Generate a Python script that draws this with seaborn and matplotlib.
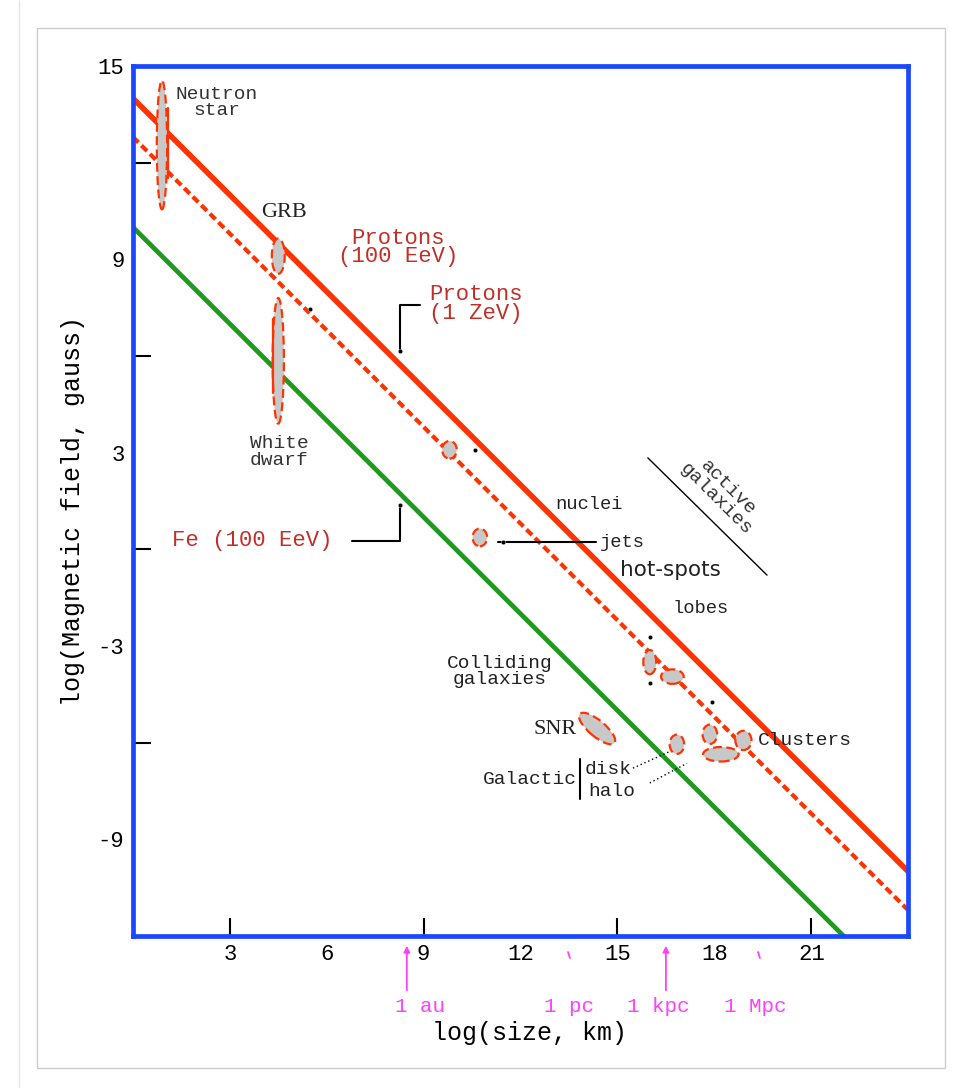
import numpy as np
import pandas as pd
import matplotlib
matplotlib.use("Agg")
import matplotlib.pyplot as plt
from matplotlib.patches import Ellipse, Rectangle
import seaborn as sns

# acceleration limit lines (log size km, log B gauss)
proton_100eev_x = [0, 24]
proton_100eev_y = [14.0, -10.0]
proton_1zev_x = [0, 24]
proton_1zev_y = [12.8, -11.2]
fe_100eev_x = [0, 22]
fe_100eev_y = [10.0, -12.0]

# sources: centre x, centre y, width, height, angle
src_names = ["Neutron star", "GRB", "White dwarf", "nuclei", "jets", "hot-spots",
             "lobes", "disk", "halo-a", "halo-b", "clusters", "SNR"]
src_x = [0.9, 4.5, 4.5, 9.8, 10.74, 16.0, 16.7, 16.84, 17.86, 18.2, 18.9, 14.37]
src_y = [12.55, 9.1, 5.85, 3.09, 0.37, -3.5, -3.95, -6.05, -5.74, -6.36, -5.93, -5.56]
src_w = [0.32, 0.4, 0.35, 0.45, 0.45, 0.4, 0.7, 0.45, 0.45, 1.1, 0.5, 1.4]
src_h = [4.0, 1.1, 3.9, 0.55, 0.55, 0.75, 0.45, 0.6, 0.6, 0.45, 0.6, 0.5]
src_ang = [0, 0, 0, 0, 0, 0, 0, 0, 0, 0, 0, -40]

# little black marks
mark_x = [5.48, 10.59, 16.0, 16.0, 17.93, 8.27, 8.27, 11.45]
mark_y = [7.47, 3.09, -2.72, -4.14, -4.75, 6.17, 1.39, 0.22]

# distance units on the size axis
unit_labels = ["1 au", "1 pc", "1 kpc", "1 Mpc"]
unit_label_x = [8.89, 13.5, 16.25, 19.26]
unit_arrow_x = [8.48, 16.5]
unit_tick_x = [13.47, 19.35]

xtick_labels = [3, 6, 9, 12, 15, 18, 21]
xtick_marks = [3, 9, 15, 21]
ytick_labels = [15, 9, 3, -3, -9]
ytick_marks = [12, 6, 0, -6]

RED = "#ff3300"
DRED = "#c0302a"
GREEN = "#1f9a1f"
BLUE = "#1a47ff"
MAG = "#ff40ff"
MONO = "Liberation Mono"
INK = "#222222"

sns.set_theme(style="white")
plt.rcParams['font.family'] = ['Liberation Mono', 'DejaVu Sans']

fig = plt.figure(figsize=(9.56, 10.88), dpi=100)
fig.patches.append(Rectangle((0.0387, 0.0184), 0.95, 0.956, transform=fig.transFigure,
                             fill=False, edgecolor="#cccccc", lw=1.0))
fig.patches.append(Rectangle((0.02, 0.0), 0.0, 1.0, transform=fig.transFigure,
                             fill=False, edgecolor="#e4e4e4", lw=1.0))
ax = fig.add_axes([0.139, 0.1397, 0.811, 0.7996])

lines = pd.DataFrame({
    "x": proton_100eev_x + proton_1zev_x + fe_100eev_x,
    "y": proton_100eev_y + proton_1zev_y + fe_100eev_y,
    "set": ["p100"] * 2 + ["p1z"] * 2 + ["fe"] * 2,
})
sns.lineplot(data=lines[lines.set == "p100"], x="x", y="y", color=RED, lw=4.0, ax=ax)
sns.lineplot(data=lines[lines.set == "p1z"], x="x", y="y", color=RED, lw=3.0,
             ax=ax, dashes=False, linestyle=(0, (1.9, 1.0)))
sns.lineplot(data=lines[lines.set == "fe"], x="x", y="y", color=GREEN, lw=3.4, ax=ax)

for x, y, w, h, a in zip(src_x, src_y, src_w, src_h, src_ang):
    ax.add_patch(Ellipse((x, y), w, h, angle=a, facecolor="#c8c8c8",
                         edgecolor=RED, lw=1.6, ls=(0, (4, 2)), zorder=4))

# red bars through neutron star and white dwarf
ax.plot([1.08, 1.08], [13.7, 11.54], color=RED, lw=1.6, zorder=5)
ax.plot([4.33, 4.33], [7.16, 4.85], color=RED, lw=1.6, zorder=5)

sns.scatterplot(x=mark_x, y=mark_y, color="black", s=10, marker="o", ax=ax, zorder=6)

# leader lines
ax.plot([8.89, 8.27, 8.27], [7.59, 7.59, 6.17], color="black", lw=1.5)
ax.plot([6.78, 8.27, 8.27], [0.25, 0.25, 1.39], color="black", lw=1.5)
ax.plot([14.35, 11.3], [0.22, 0.22], color="black", lw=1.5)
ax.plot([15.94, 19.63], [2.84, -0.80], color="black", lw=1.0)
ax.plot([13.84, 13.84], [-6.51, -7.75], color="black", lw=1.5)
ax.plot([15.48, 16.63], [-6.79, -6.27], color="black", lw=1.0, ls=(0, (1, 2)))
ax.plot([16.0, 17.15], [-7.25, -6.64], color="black", lw=1.0, ls=(0, (1, 2)))

txt = dict(ha="center", va="center", family=MONO)
ax.text(2.60, 13.87, "Neutron\nstar", fontsize=14, color="#333333", linespacing=0.95, **txt)
ax.text(4.67, 10.46, "GRB", fontsize=16, color=INK, ha="center", va="center",
        family="Liberation Serif")
ax.text(8.2, 9.37, "Protons\n(100 EeV)", fontsize=16, color=DRED, linespacing=0.85, **txt)
ax.text(10.62, 7.61, "Protons\n(1 ZeV)", fontsize=16, color=DRED, linespacing=0.85, **txt)
ax.text(4.52, 3.02, "White\ndwarf", fontsize=14, color="#333333", linespacing=0.95, **txt)
ax.text(3.68, 0.28, "Fe (100 EeV)", fontsize=16, color=DRED, **txt)
ax.text(14.12, 1.39, "nuclei", fontsize=13.5, color=INK, **txt)
ax.text(15.14, 0.22, "jets", fontsize=13.5, color=INK, **txt)
ax.text(16.63, -0.65, "hot-spots", fontsize=15.5, color=INK, ha="center", va="center",
        family="DejaVu Sans")
ax.text(17.59, -1.85, "lobes", fontsize=13.5, color=INK, **txt)
ax.text(18.24, 1.73, "active\ngalaxies", fontsize=14, color="#333333", rotation=-45,
        rotation_mode="anchor", linespacing=0.95, **txt)
ax.text(11.36, -3.80, "Colliding\ngalaxies", fontsize=14, color=INK, linespacing=0.95, **txt)
ax.text(13.07, -5.59, "SNR", fontsize=16, color=INK, ha="center", va="center",
        family="Liberation Serif")
ax.text(12.29, -7.13, "Galactic", fontsize=14, color=INK, **txt)
ax.text(14.71, -6.82, "disk", fontsize=14, color=INK, **txt)
ax.text(14.83, -7.50, "halo", fontsize=14, color=INK, **txt)
ax.text(20.8, -5.93, "Clusters", fontsize=14, color=INK, **txt)

ax.set_xlim(0, 24)
ax.set_ylim(-12, 15)

# inner tick marks sit on some labelled positions, keep both
ax.xaxis.remove_overlapping_locs = False
ax.yaxis.remove_overlapping_locs = False
ax.set_xticks(xtick_labels)
ax.set_xticklabels([str(v) for v in xtick_labels], family=MONO, fontsize=16)
ax.set_xticks(xtick_marks, minor=True)
ax.set_yticks(ytick_labels)
ax.set_yticklabels([str(v) for v in ytick_labels], family=MONO, fontsize=16)
ax.set_yticks(ytick_marks, minor=True)
ax.tick_params(which="major", length=0, pad=6, colors="black")
ax.tick_params(which="minor", direction="in", length=13, width=1.5, color="black",
               bottom=True, left=True)

for s in ax.spines.values():
    s.set_color(BLUE)
    s.set_linewidth(3.4)

# distance units below the axis
btr = ax.get_xaxis_transform()
for x in unit_arrow_x:
    ax.annotate("", xy=(x, -0.008), xytext=(x, -0.0655), xycoords=btr, textcoords=btr,
                arrowprops=dict(arrowstyle="-|>", color=MAG, lw=1.3, mutation_scale=9),
                annotation_clip=False)
for x in unit_tick_x:
    ax.plot([x, x + 0.06], [-0.0184, -0.0253], transform=btr, color=MAG, lw=1.3,
            clip_on=False)
for lab, x in zip(unit_labels, unit_label_x):
    ax.text(x, -0.0805, lab, transform=btr, color=MAG, fontsize=15, ha="center",
            va="center", family=MONO)

ax.set_xlabel("log(size, km)", family=MONO, fontsize=18, color="black")
ax.xaxis.set_label_coords(0.511, -0.111)
ax.xaxis.label.set_va("center")
ax.set_ylabel("log(Magnetic field, gauss)", family=MONO, fontsize=18, color="black")
ax.yaxis.set_label_coords(-0.077, 0.4885)
ax.yaxis.label.set_va("center")

fig.savefig("out.png", dpi=100, facecolor="white")
